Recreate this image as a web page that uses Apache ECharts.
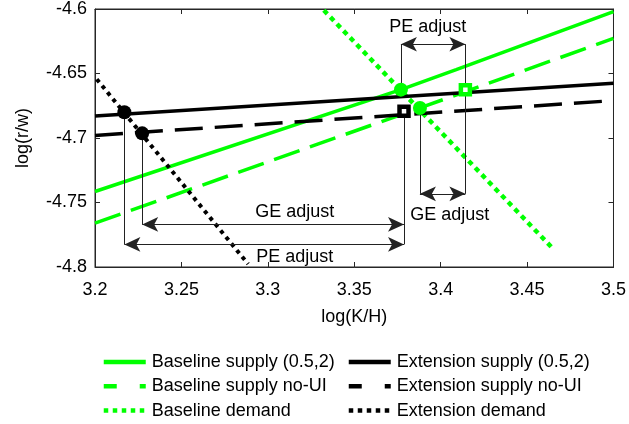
<!DOCTYPE html>
<html>
<head>
<meta charset="utf-8">
<script src="https://cdn.jsdelivr.net/npm/echarts@6/dist/echarts.min.js"></script>
<style>
html,body{margin:0;padding:0;background:#fff;}
#chart{width:629px;height:424px;}
</style>
</head>
<body>
<div id="chart"></div>
<script>
// ---- data ----
var xTickLabels = ['3.2', '3.25', '3.3', '3.35', '3.4', '3.45', '3.5'];
var yTickLabels = ['-4.8', '-4.75', '-4.7', '-4.65', '-4.6'];

var baselineSupply = [[3.2, -4.7415], [3.377, -4.6625], [3.409, -4.647], [3.5, -4.602]];
var baselineSupplyNoUI = [[3.2, -4.766], [3.388, -4.6767], [3.5, -4.6228]];
var baselineDemand = [[3.3324, -4.601], [3.464, -4.7844]];
var extensionSupply = [[3.2, -4.683], [3.5, -4.6575]];
var extensionSupplyNoUI = [[3.2, -4.698], [3.5, -4.671]];
var extensionDemand = [[3.201, -4.6544], [3.2886, -4.7977]];

var greenDots = [[3.377, -4.6625], [3.388, -4.6767]];
var greenSquares = [[3.4143, -4.6625]];
var blackDots = [[3.217, -4.680], [3.2273, -4.6964]];
var blackSquares = [[3.3788, -4.6792]];

// annotation guide lines: [x, yFrom, yTo]
var guideLines = [
  [3.217, -4.680, -4.7825],
  [3.2273, -4.6964, -4.767],
  [3.3788, -4.6792, -4.7825],
  [3.377, -4.6625, -4.6273],
  [3.4143, -4.6273, -4.7433],
  [3.388, -4.6767, -4.7433]
];
// double arrows: [xFrom, xTo, y]
var arrows = [
  [3.217, 3.3788, -4.7825],
  [3.2273, 3.3788, -4.767],
  [3.377, 3.4143, -4.6273],
  [3.388, 3.4143, -4.7433]
];
// annotation texts: [x, y, text]
var notes = [
  [3.3156, -4.7575, 'GE adjust'],
  [3.3156, -4.792, 'PE adjust'],
  [3.3925, -4.6138, 'PE adjust'],
  [3.4052, -4.760, 'GE adjust']
];

// ---- chart ----
var FONT = "'Liberation Sans', Arial, Helvetica, sans-serif";
var GREEN = '#00ff00';
var AXC = '#262626';

function fmt(list) {
  return function (v) {
    for (var i = 0; i < list.length; i++) {
      if (Math.abs(parseFloat(list[i]) - v) < 1e-6) return list[i];
    }
    return '';
  };
}

function lineSeries(name, data, color, type, width) {
  return {
    name: name, type: 'line', data: data, symbol: 'none', showSymbol: false,
    lineStyle: { color: color, width: width, type: type, cap: 'butt' },
    itemStyle: { color: color },
    silent: true, animation: false, z: 3, clip: true
  };
}

var guideMarks = guideLines.map(function (g) {
  return [{ coord: [g[0], g[1]] }, { coord: [g[0], g[2]] }];
});
var arrowMarks = arrows.map(function (a) {
  return [{ coord: [a[0], a[2]] }, { coord: [a[1], a[2]] }];
});

function legendItem(name, type) {
  return { name: name, lineStyle: { type: type, width: 4.5, cap: 'butt' } };
}
var legendCommon = {
  orient: 'vertical', top: 353, height: 90, padding: 0,
  itemWidth: 42, itemHeight: 18, itemGap: 6.3,
  itemStyle: { opacity: 0 },
  textStyle: { fontSize: 18, lineHeight: 18, color: '#000', fontFamily: FONT, padding: [0, 0, 0, 1] },
  selectedMode: false
};

var chart = echarts.init(document.getElementById('chart'), null, { renderer: 'canvas' });
var option = {
  animation: false,
  backgroundColor: '#fff',
  textStyle: { fontFamily: FONT },
  grid: { left: 95, right: 15, top: 7, bottom: 157, show: true, borderColor: AXC, borderWidth: 1, backgroundColor: 'transparent' },
  legend: [
    Object.assign({}, legendCommon, {
      left: 101.5,
      data: [
        legendItem('Baseline supply (0.5,2)', 'solid'),
        legendItem('Baseline supply no-UI', [13, 23]),
        legendItem('Baseline demand', [4.5, 4.5])
      ]
    }),
    Object.assign({}, legendCommon, {
      left: 346.5,
      data: [
        legendItem('Extension supply (0.5,2)', 'solid'),
        legendItem('Extension supply no-UI', [13, 23]),
        legendItem('Extension demand', [4.5, 4.5])
      ]
    })
  ],
  xAxis: [
    {
      type: 'value', min: 3.2, max: 3.5, interval: 0.05,
      name: 'log(K/H)', nameLocation: 'middle', nameGap: 41,
      nameTextStyle: { fontSize: 18, color: '#000', fontFamily: FONT },
      axisLine: { show: true, lineStyle: { color: AXC, width: 1 } },
      axisTick: { show: true, inside: true, length: 5, lineStyle: { color: AXC } },
      axisLabel: { fontSize: 18, color: '#000', margin: 14, fontFamily: FONT, formatter: fmt(xTickLabels) },
      splitLine: { show: false }
    },
    {
      type: 'value', min: 3.2, max: 3.5, interval: 0.05, position: 'top',
      axisLine: { show: true, lineStyle: { color: AXC, width: 1 } },
      axisTick: { show: true, inside: true, length: 5, lineStyle: { color: AXC } },
      axisLabel: { show: false }, splitLine: { show: false }
    }
  ],
  yAxis: [
    {
      type: 'value', min: -4.8, max: -4.6, interval: 0.05,
      name: 'log(r/w)', nameLocation: 'middle', nameGap: 63,
      nameTextStyle: { fontSize: 18, color: '#000', fontFamily: FONT },
      axisLine: { show: true, lineStyle: { color: AXC, width: 1 } },
      axisTick: { show: true, inside: true, length: 5, lineStyle: { color: AXC } },
      axisLabel: { fontSize: 18, color: '#000', margin: 8, fontFamily: FONT, formatter: fmt(yTickLabels) },
      splitLine: { show: false }
    },
    {
      type: 'value', min: -4.8, max: -4.6, interval: 0.05, position: 'right',
      axisLine: { show: true, lineStyle: { color: AXC, width: 1 } },
      axisTick: { show: true, inside: true, length: 5, lineStyle: { color: AXC } },
      axisLabel: { show: false }, splitLine: { show: false }
    }
  ],
  series: [
    lineSeries('Baseline supply (0.5,2)', baselineSupply, GREEN, 'solid', 3.5),
    lineSeries('Baseline supply no-UI', baselineSupplyNoUI, GREEN, [27, 11], 3.5),
    lineSeries('Baseline demand', baselineDemand, GREEN, [5, 4.5], 4.5),
    lineSeries('Extension supply (0.5,2)', extensionSupply, '#000', 'solid', 3.5),
    lineSeries('Extension supply no-UI', extensionSupplyNoUI, '#000', [28, 12], 3.5),
    lineSeries('Extension demand', extensionDemand, '#000', [4, 4.5], 4),
    {
      name: 'guides', type: 'line', data: [], silent: true, z: 2,
      markLine: {
        silent: true, animation: false, symbol: ['none', 'none'],
        lineStyle: { color: '#222', width: 1, type: 'solid' },
        label: { show: false }, emphasis: { disabled: true },
        data: guideMarks
      }
    },
    {
      name: 'arrows', type: 'line', data: [], silent: true, z: 2,
      markLine: {
        silent: true, animation: false, symbol: ['arrow', 'arrow'], symbolSize: [11, 16],
        lineStyle: { color: '#222', width: 1, type: 'solid' },
        itemStyle: { color: '#000' },
        label: { show: false }, emphasis: { disabled: true },
        data: arrowMarks
      }
    },
    {
      name: 'notes', type: 'scatter', symbolSize: 0, silent: true, z: 6,
      itemStyle: { color: '#000', opacity: 1 },
      data: notes.map(function (n) { return { value: [n[0], n[1]], text: n[2] }; }),
      label: {
        show: true, position: 'inside', fontSize: 18, color: '#000', fontFamily: FONT,
        textBorderWidth: 0,
        formatter: function (p) { return p.data.text; }
      }
    },
    {
      name: 'greenDots', type: 'scatter', data: greenDots, symbol: 'circle', symbolSize: 14,
      itemStyle: { color: GREEN, opacity: 1 }, silent: true, z: 5
    },
    {
      name: 'greenSquares', type: 'scatter', data: greenSquares, symbol: 'rect', symbolSize: 9,
      itemStyle: { color: '#fff', borderColor: GREEN, borderWidth: 4.5, opacity: 1 }, silent: true, z: 5
    },
    {
      name: 'blackDots', type: 'scatter', data: blackDots, symbol: 'circle', symbolSize: 14,
      itemStyle: { color: '#000', opacity: 1 }, silent: true, z: 5
    },
    {
      name: 'blackSquares', type: 'scatter', data: blackSquares, symbol: 'rect', symbolSize: 9,
      itemStyle: { color: '#fff', borderColor: '#000', borderWidth: 4.5, opacity: 1 }, silent: true, z: 5
    }
  ]
};
chart.setOption(option);
</script>
</body>
</html>
